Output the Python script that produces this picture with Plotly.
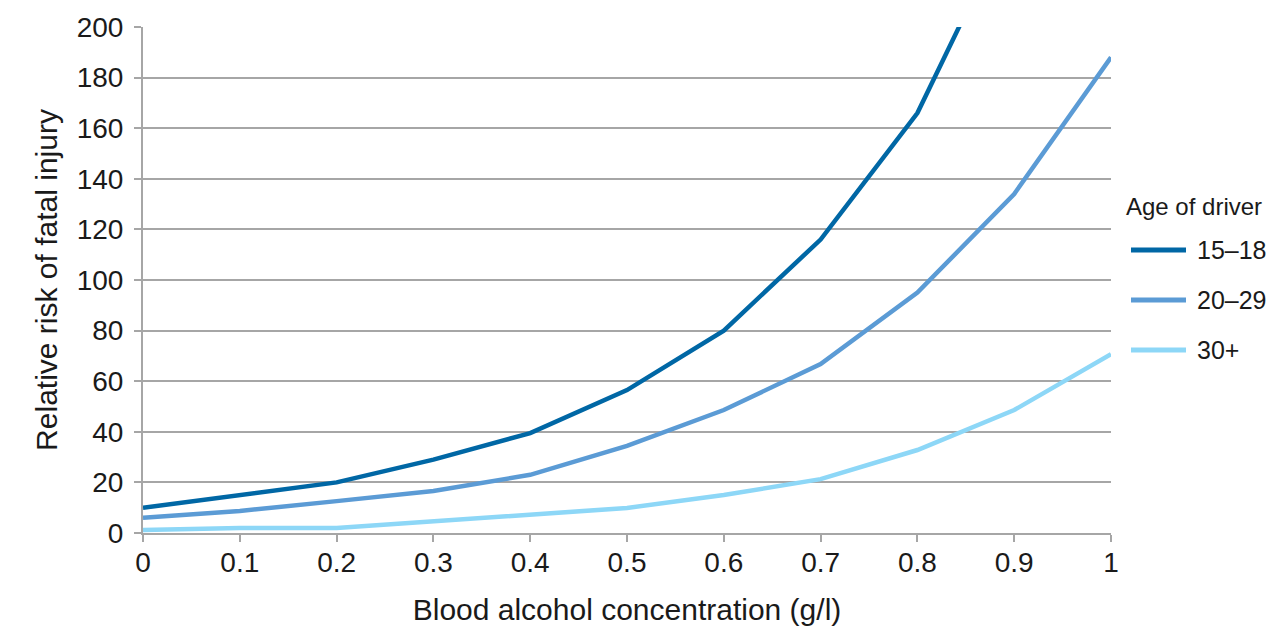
import plotly.graph_objects as go

# blood alcohol concentration (g/l)
bac = [0, 0.1, 0.2, 0.3, 0.4, 0.5, 0.6, 0.7, 0.8, 0.9, 1.0]
bac_labels = ["0", "0.1", "0.2", "0.3", "0.4", "0.5", "0.6", "0.7", "0.8", "0.9", "1"]

# relative risk by driver age (15-18 runs off the top after 0.8)
risk_15_18 = [10, 15, 20, 29, 39.5, 56.5, 80, 116, 166, 245, 360]
risk_20_29 = [6, 8.7, 12.6, 16.6, 23, 34.4, 48.6, 66.8, 95, 134, 188]
risk_30_plus = [1.2, 2, 2, 4.7, 7, 9.9, 15, 21.3, 32.8, 48.6, 70.7]

y_ticks = list(range(0, 201, 20))

series = [
    ("15–18", risk_15_18, "#0067A5"),
    ("20–29", risk_20_29, "#5B9BD5"),
    ("30+", risk_30_plus, "#8DD7F7"),
]

# margins (page body adds 8px offset)
L, R, T, B = 135, 181, 19, 107
W, H = 1284, 632
PW, PH = W - L - R, H - T - B


def px_x(px):
    return (px - 8 - L) / PW


def px_y(py):
    return (H - B - (py - 8)) / PH


fig = go.Figure()
for name, vals, col in series:
    fig.add_trace(go.Scatter(
        x=bac, y=vals, mode="lines", name=name,
        line=dict(color=col, width=4.5), showlegend=False
    ))

# hand-made legend (long line samples like the original)
fig.add_annotation(
    x=px_x(1124), y=px_y(207), xref="paper", yref="paper",
    text="Age of driver", showarrow=False, xanchor="left", yanchor="middle",
    font=dict(size=24)
)
for i, (name, vals, col) in enumerate(series):
    yy = px_y(250 + 50 * i)
    fig.add_shape(
        type="line", xref="paper", yref="paper",
        x0=px_x(1131), x1=px_x(1186), y0=yy, y1=yy,
        line=dict(color=col, width=5)
    )
    fig.add_annotation(
        x=px_x(1195), y=yy, xref="paper", yref="paper",
        text=name, showarrow=False, xanchor="left", yanchor="middle",
        font=dict(size=25)
    )

axis_col = "#A6A6A6"
fig.update_layout(
    width=W, height=H,
    margin=dict(l=L, r=R, t=T, b=B),
    paper_bgcolor="white", plot_bgcolor="white",
    font=dict(family="Liberation Sans, Arial, sans-serif", color="#1a1a1a", size=22),
    xaxis=dict(
        range=[0, 1], tickvals=bac, ticktext=bac_labels, automargin=False,
        showgrid=False, zeroline=False,
        showline=True, linecolor=axis_col, linewidth=2,
        ticks="outside", ticklen=7, tickcolor=axis_col, tickwidth=2,
        tickfont=dict(size=28), ticklabelstandoff=-4,
        title=dict(text="Blood alcohol concentration (g/l)", font=dict(size=30), standoff=22),
    ),
    yaxis=dict(
        range=[0, 200], tickvals=y_ticks, automargin=False,
        showgrid=True, gridcolor=axis_col, gridwidth=1.5, zeroline=False,
        showline=True, linecolor=axis_col, linewidth=2,
        ticks="outside", ticklen=7, tickcolor=axis_col, tickwidth=2,
        tickfont=dict(size=28), ticklabelstandoff=5,
        title=dict(text="Relative risk of fatal injury", font=dict(size=30), standoff=10),
    ),
    showlegend=False,
)

fig.write_html("out.html")
